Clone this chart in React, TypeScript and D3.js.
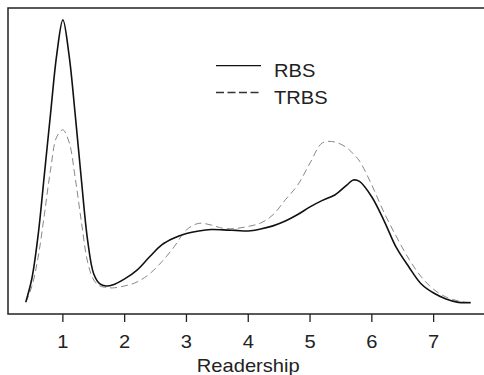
import * as d3 from 'd3'

// readership grid and the two density estimates
const readership = [
  0.4, 0.5, 0.6, 0.7, 0.8, 0.9, 1.0, 1.1, 1.2, 1.3, 1.4, 1.5, 1.6, 1.7, 1.8,
  2.0, 2.2, 2.4, 2.6, 2.8, 3.0, 3.2, 3.4, 3.6, 3.8, 4.0, 4.2, 4.4, 4.6, 4.8,
  5.0, 5.2, 5.4, 5.6, 5.7, 5.8, 6.0, 6.2, 6.4, 6.6, 6.8, 7.0, 7.2, 7.4, 7.6,
]
const rbs = [
  0.002, 0.087, 0.239, 0.451, 0.666, 0.874, 0.998, 0.874, 0.663, 0.433, 0.221, 0.101, 0.066, 0.059, 0.062,
  0.084, 0.115, 0.161, 0.204, 0.228, 0.244, 0.253, 0.258, 0.257, 0.255, 0.253, 0.26, 0.271, 0.288, 0.311,
  0.338, 0.361, 0.38, 0.416, 0.433, 0.428, 0.373, 0.288, 0.193, 0.126, 0.066, 0.034, 0.013, 0.001, 0,
]
const trbs = [
  0.001, 0.059, 0.161, 0.31, 0.468, 0.585, 0.61, 0.567, 0.44, 0.285, 0.144, 0.08, 0.059, 0.054, 0.052,
  0.059, 0.073, 0.101, 0.144, 0.197, 0.257, 0.28, 0.274, 0.262, 0.262, 0.269, 0.281, 0.31, 0.363, 0.415,
  0.493, 0.564, 0.567, 0.546, 0.525, 0.5, 0.415, 0.317, 0.232, 0.154, 0.091, 0.047, 0.02, 0.006, 0,
]
const xTicks = [1, 2, 3, 4, 5, 6, 7]
const seriesNames = ['RBS', 'TRBS']

const W = 484
const H = 375
const frame = { left: 8, top: 8, bottom: 314 }
const font = '"Liberation Sans", Arial, Helvetica, sans-serif'
// the reference text is a bit wider than it is tall
const stretch = 'scale(1.15,1)'

export default function App() {
  const x = d3.scaleLinear().domain([0.112, 7.888]).range([frame.left, 488.5])
  const y = d3.scaleLinear().domain([-0.04, 1.04]).range([frame.bottom, frame.top])

  const line = d3.line<number>()
    .x((_, i) => x(readership[i]))
    .y((d) => y(d))
    .curve(d3.curveCatmullRom.alpha(0.5))

  return (
    <svg width={W} height={H} style={{ position: 'fixed', left: 0, top: 0, background: '#fff' }}>
      <rect
        x={frame.left}
        y={frame.top}
        width={488 - frame.left}
        height={frame.bottom - frame.top}
        fill="none"
        stroke="#222"
        strokeWidth={1.5}
      />
      <path d={line(trbs) || ''} fill="none" stroke="#888" strokeWidth={1} strokeDasharray="7,4" />
      <path d={line(rbs) || ''} fill="none" stroke="#111" strokeWidth={1.6} />

      {xTicks.map((t) => (
        <g key={t} transform={`translate(${x(t)},0)`}>
          <line y1={frame.bottom} y2={frame.bottom + 8} stroke="#222" strokeWidth={1.3} />
          <text
            transform={`translate(0,347.5) ${stretch}`}
            textAnchor="middle"
            fontFamily={font}
            fontSize={17.5}
            fill="#222"
          >
            {t}
          </text>
        </g>
      ))}
      <text
        transform={`translate(${x(4)},371.5) ${stretch}`}
        textAnchor="middle"
        fontFamily={font}
        fontSize={17.5}
        fill="#222"
      >
        Readership
      </text>

      {seriesNames.map((name, i) => (
        <g key={name} transform={`translate(0,${65.7 + i * 26.8})`}>
          <line
            x1={216}
            x2={261}
            stroke={i === 0 ? '#111' : '#333'}
            strokeWidth={1.3}
            strokeDasharray={i === 0 ? undefined : '8,3.5'}
          />
          <text transform={`translate(274,11) ${stretch}`} fontFamily={font} fontSize={17.5} fill="#222">
            {name}
          </text>
        </g>
      ))}
    </svg>
  )
}
